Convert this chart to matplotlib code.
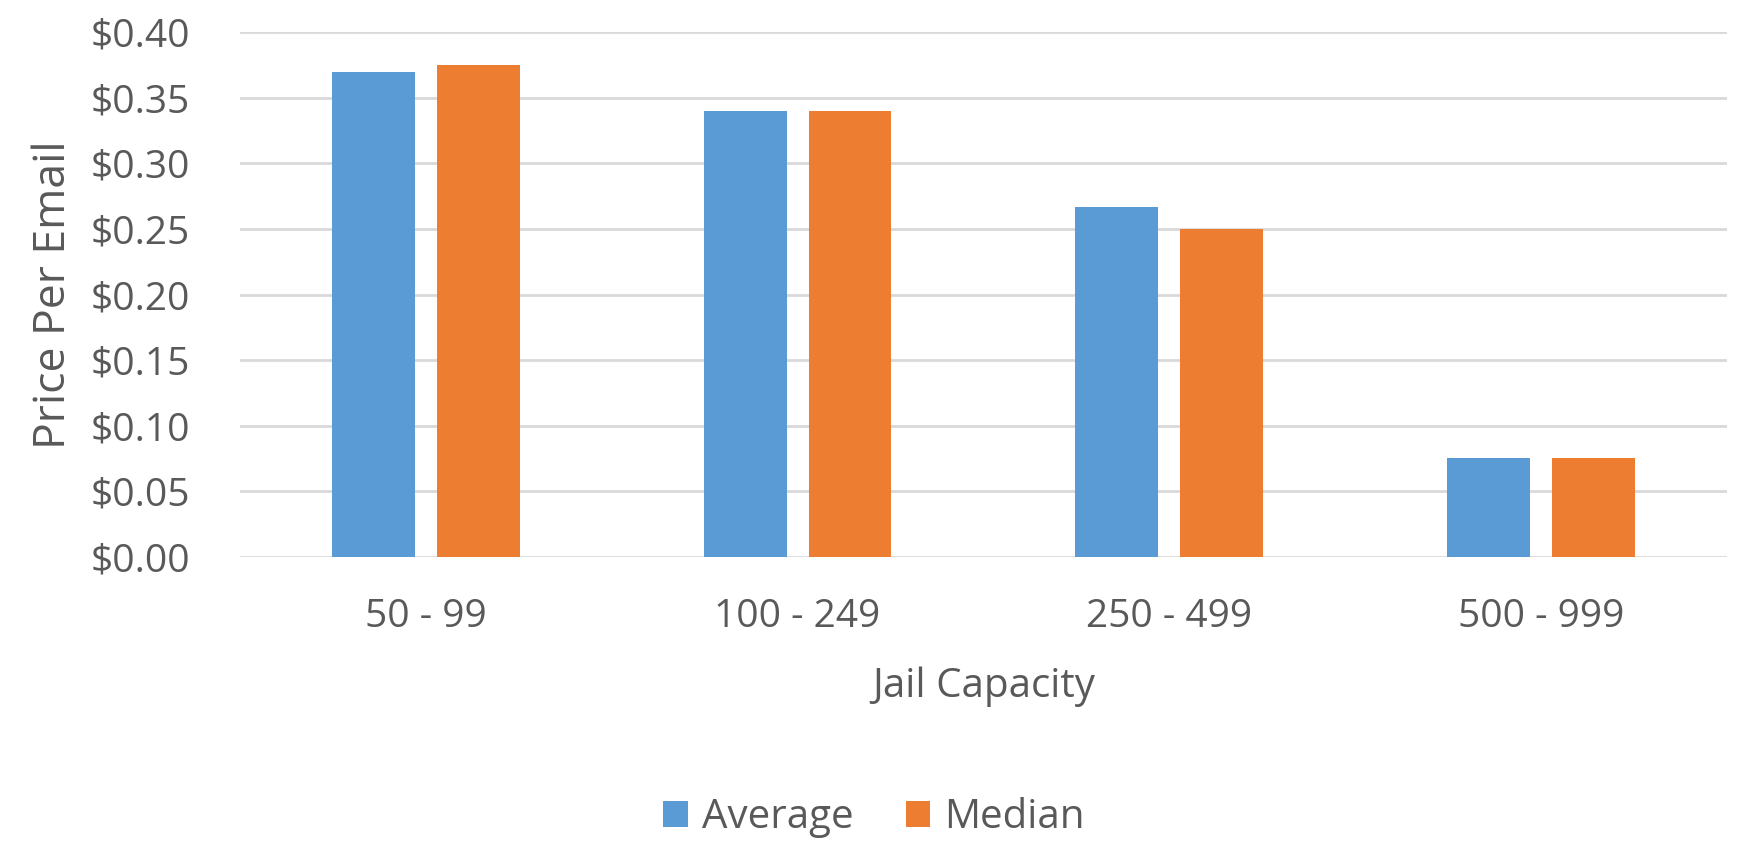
import numpy as np
import matplotlib
matplotlib.use('Agg')
import matplotlib.pyplot as plt
from matplotlib.ticker import FuncFormatter, MultipleLocator

plt.rcParams['font.family'] = ['Open Sans', 'DejaVu Sans']

# price per email by jail size
capacity = ['50 - 99', '100 - 249', '250 - 499', '500 - 999']
average = [0.370, 0.340, 0.267, 0.075]
median = [0.375, 0.340, 0.250, 0.075]

text_color = '#595959'
blue = '#5B9BD5'
orange = '#ED7D31'

fig = plt.figure(figsize=(17.48, 8.43), dpi=100)
ax = fig.add_axes([0.1373, 0.3396, 0.8505, 0.6221])

x = np.arange(len(capacity))
width = 0.2225
offset = 0.2817 / 2
ax.bar(x - offset, average, width, color=blue, label='Average', zorder=3)
ax.bar(x + offset, median, width, color=orange, label='Median', zorder=3)

ax.set_xlim(-0.5, len(capacity) - 0.5)
ax.set_ylim(0, 0.40)
ax.yaxis.set_major_locator(MultipleLocator(0.05))
ax.yaxis.set_major_formatter(FuncFormatter(lambda v, p: '${:.2f}'.format(v)))
ax.set_xticks(x)
ax.set_xticklabels(capacity)

ax.grid(axis='y', color='#D9D9D9', linewidth=2.0, zorder=0)
ax.set_axisbelow(True)
for s in ax.spines.values():
    s.set_visible(False)
ax.tick_params(axis='both', length=0, labelsize=28, colors=text_color)
ax.tick_params(axis='y', pad=36)
ax.tick_params(axis='x', pad=30)

ax.set_xlabel('Jail Capacity', fontsize=29, color=text_color, labelpad=22)
ax.set_ylabel('Price Per Email', fontsize=32, color=text_color, labelpad=10)

fig.legend(loc='center', bbox_to_anchor=(0.5, 1 - 818 / 843), ncol=2, frameon=False,
           fontsize=29, labelcolor=text_color, handlelength=0.6, handleheight=0.6,
           handletextpad=0.35, columnspacing=1.3)

fig.savefig('out.png', dpi=100)
